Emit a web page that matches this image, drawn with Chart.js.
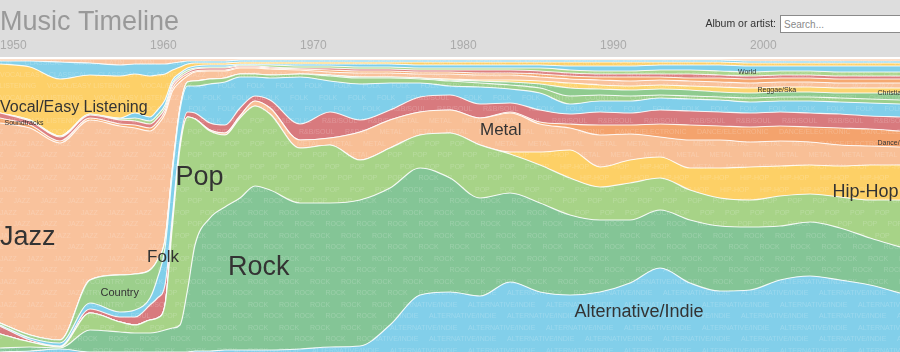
<!DOCTYPE html>
<html>
<head>
<meta charset="utf-8">
<title>Music Timeline</title>
<script src="https://cdn.jsdelivr.net/npm/chart.js@4.4.1/dist/chart.umd.min.js"></script>
<style>
  html, body { margin: 0; padding: 0; background: #fff; }
  #wrap { position: relative; width: 900px; height: 352px; overflow: hidden; }
  #search {
    position: absolute; left: 780px; top: 15px; width: 130px; height: 18px;
    box-sizing: border-box; border: 1px solid #8a8a8a; padding: 0 3px;
    font: 10px "Liberation Sans", Arial, sans-serif; color: #333; background: #fff; outline: none;
  }
  #search::placeholder { color: #8a8a8a; }
</style>
</head>
<body>
<div id="wrap">
  <canvas id="timeline"></canvas>
  <input id="search" type="text" placeholder="Search...">
</div>
<script>
// sample years (extra points around the 1960-63 switch from jazz to pop/rock)
const years = [1950, 1952, 1954, 1956, 1958, 1959, 1960, 1960.5, 1961, 1961.5, 1962, 1962.5, 1963,
  1964, 1965, 1966, 1967, 1968, 1970, 1972, 1974, 1976, 1978, 1980, 1982, 1984, 1986, 1988,
  1990, 1992, 1994, 1996, 1998, 2000, 2002, 2004, 2006, 2008, 2010];
const tickYears = [1950, 1960, 1970, 1980, 1990, 2000];

// relative popularity per genre, bottom of the stack first
const alternative = [0,1,3,0,0,0,0,0,0,0,0,0,1,1,2,2,2,2,3,5,6,27,57,60,56,70,60,57,60,69,84,69,61,62,72,76,72,67,59];
const rock = [4,4,1,22,20,19,19,20,22,24,27,62,106,133,143,152,164,160,146,144,146,137,127,114,98,89,89,80,72,63,58,63,65,63,54,54,52,47,46];
const pop = [14,5,1,17,10,8,13,14,25,103,177,173,126,87,72,80,80,76,55,58,40,40,33,45,53,39,38,37,33,37,32,30,28,27,30,28,31,38,47];
const hipHop = [0,0,0,0,0,0,0,0,0,0,0,0,0,0,0,0,0,0,0,0,0,0,0,0,0,2,13,28,20,23,21,22,30,33,30,29,31,35,35];
const metal = [0,0,0,0,0,0,0,0,0,0,0,0,0,1,2,2,5,6,8,7,28,28,23,23,27,39,28,22,32,26,20,28,28,25,25,23,21,19,18];
const dance = [0,0,0,0,0,0,0,0,0,0,0,0,0,0,0,0,0,0,0,0,0,0,0,0,0,1,2,4,10,9,13,15,14,15,15,15,17,17,16];
const rnb = [8,2,1,4,5,8,15,20,20,10,6,5,6,7,8,8,5,8,16,26,12,10,15,15,14,9,12,10,13,12,14,14,14,14,14,14,14,13,14];
const folk = [1,2,3,6,5,7,7,20,37,43,32,26,27,39,43,31,19,22,47,31,36,27,14,9,17,14,17,10,11,12,12,12,12,11,11,12,12,13,13];
const country = [2,3,3,23,37,36,28,18,8,4,2,4,5,5,4,3,3,3,3,5,6,5,4,5,4,4,5,8,6,5,3,3,3,4,4,4,4,4,4];
const christian = [0,0,0,0,0,0,0,0,0,0,0,0,0,0,0,0,0,0,0,1,1,1,1,1,2,3,4,8,6,6,6,6,5,5,5,5,5,6,7];
const reggae = [0,0,0,0,0,0,0,0,0,0,0,0,0,0,0,0,0,0,0,0,0,0,0,1,1,2,3,5,4,4,4,4,5,5,5,5,5,5,5];
const jazz = [200,207,197,160,149,146,139,135,126,77,26,6,9,8,7,6,6,6,4,3,4,4,4,5,5,5,4,4,5,5,5,5,5,5,5,5,5,5,5];
const soundtracks = [5,3,2,2,2,3,3,3,3,3,3,2,1,1,1,1,1,1,1,2,2,2,2,2,2,2,3,3,3,4,3,3,4,4,4,4,4,4,4];
const blues = [5,4,4,3,4,4,4,4,3,3,2,2,2,2,2,1,1,1,1,2,2,2,2,2,3,3,3,3,3,3,3,4,3,3,3,3,3,3,3];
const childrens = [0,1,1,1,1,3,3,3,3,2,2,2,1,1,1,1,1,2,2,2,2,2,2,2,2,2,3,3,3,3,4,4,4,4,4,4,4,4,4];
const world = [0,0,0,0,1,5,4,5,5,3,2,2,2,2,2,1,1,1,2,2,3,3,3,3,3,3,3,4,5,5,5,5,6,6,5,5,6,6,6];
const vocal = [49,53,57,39,42,39,41,35,26,10,6,4,3,2,2,2,2,2,2,2,2,2,3,3,3,3,3,4,4,4,3,3,3,3,3,3,3,3,3];
const classical = [3,6,17,12,11,10,12,11,10,7,5,3,2,2,2,2,2,2,2,2,2,2,2,2,2,2,2,2,2,2,2,2,2,2,2,2,2,2,2];
const latin = [2,2,3,4,6,5,5,5,5,4,3,2,2,2,2,1,1,1,1,1,1,1,1,1,1,1,1,1,1,1,1,1,1,2,2,2,2,2,2];

const genres = [
  ['Alternative/Indie', alternative, '#82cfea'],
  ['Rock', rock, '#84c596'],
  ['Pop', pop, '#a7d387'],
  ['Hip-Hop', hipHop, '#fdd066'],
  ['Metal', metal, '#f8bf96'],
  ['Dance/Electronic', dance, '#f4a36d'],
  ['R&B/Soul', rnb, '#d87a7e'],
  ['Folk', folk, '#80cfea'],
  ['Country', country, '#9ccf8c'],
  ['Christian/Gospel', christian, '#8fcb8f'],
  ['Reggae/Ska', reggae, '#fcd470'],
  ['Jazz', jazz, '#f9c29c'],
  ['Soundtracks', soundtracks, '#f5a870'],
  ['Blues', blues, '#dc8080'],
  ["Children's", childrens, '#aad58c'],
  ['World', world, '#7fcfea'],
  ['Vocal/Easy Listening', vocal, '#fdd068'],
  ['Classical', classical, '#84d0ea'],
  ['Latin', latin, '#f9c4a0']
];

// genre names written on the streams: text, year, share (0-100 from bottom), size
const labels = [
  ['Vocal/Easy Listening', 1950, 83.5, 16],
  ['Soundtracks', 1950.3, 78.2, 7],
  ['Jazz', 1950, 39.2, 27],
  ['Country', 1956.7, 20.1, 11],
  ['Folk', 1959.8, 32.4, 17],
  ['Pop', 1961.7, 59.7, 27],
  ['Rock', 1965.2, 28.7, 27],
  ['Metal', 1982, 75.8, 17],
  ['Alternative/Indie', 1988.3, 13.6, 18],
  ['Hip-Hop', 2005.5, 54.6, 18],
  ['World', 1999.2, 95.6, 7],
  ['Reggae/Ska', 2000.5, 89.4, 7],
  ['Christian/Gospel', 2008.5, 88.4, 7],
  ['Dance/Electronic', 2008.5, 71.3, 7]
];

const FONT = '"Liberation Sans", Arial, Helvetica, sans-serif';
const HEADER_H = 57;

// each year is shown as a share of the whole
const totals = years.map((_, i) => genres.reduce((s, g) => s + g[1][i], 0));

// stream fill: base colour with the genre name repeated faintly, like the original
function streamFill(name, color) {
  const word = name.toUpperCase();
  const probe = document.createElement('canvas').getContext('2d');
  probe.font = '7px ' + FONT;
  const step = Math.ceil(probe.measureText(word).width) + 10;
  const rowH = 11.5;
  const tile = document.createElement('canvas');
  tile.width = step;
  tile.height = rowH * 2;
  const t = tile.getContext('2d');
  t.fillStyle = color;
  t.fillRect(0, 0, tile.width, tile.height);
  t.font = '7px ' + FONT;
  t.textBaseline = 'middle';
  t.fillStyle = 'rgba(255,255,255,0.2)';
  t.fillText(word, 0, rowH * 0.5);
  t.fillText(word, step / 2, rowH * 1.5);
  t.fillText(word, step / 2 - step, rowH * 1.5);
  return t.createPattern(tile, 'repeat');
}

const datasets = genres.map(([name, values, color], k) => ({
  label: name,
  data: years.map((yr, i) => ({ x: yr, y: values[i] / totals[i] * 100 })),
  backgroundColor: streamFill(name, color),
  borderColor: 'rgba(255,255,255,0.85)',
  borderWidth: 1.2,
  fill: k === 0 ? 'origin' : '-1',
  pointRadius: 0,
  cubicInterpolationMode: 'monotone'
}));

const headerPlugin = {
  id: 'header',
  beforeDraw(chart) {
    const ctx = chart.ctx;
    const xs = chart.scales.x;
    ctx.save();
    ctx.fillStyle = '#dddddd';
    ctx.fillRect(0, 0, chart.width, HEADER_H);
    ctx.fillStyle = '#ffffff';
    ctx.fillRect(0, HEADER_H, chart.width, 2);

    ctx.fillStyle = '#999999';
    ctx.font = '27px ' + FONT;
    ctx.textBaseline = 'alphabetic';
    ctx.textAlign = 'left';
    ctx.fillText('Music Timeline', 0, 30);

    ctx.fillStyle = '#aaaaaa';
    ctx.font = '12px ' + FONT;
    ctx.textBaseline = 'middle';
    tickYears.forEach(yr => ctx.fillText(String(yr), xs.getPixelForValue(yr), 46));

    ctx.fillStyle = '#333333';
    ctx.font = '10.5px ' + FONT;
    ctx.textAlign = 'right';
    ctx.fillText('Album or artist:', 776, 24);
    ctx.restore();
  }
};

const labelPlugin = {
  id: 'streamLabels',
  afterDatasetsDraw(chart) {
    const ctx = chart.ctx;
    const xs = chart.scales.x, ys = chart.scales.y;
    ctx.save();
    ctx.fillStyle = '#333333';
    ctx.textAlign = 'left';
    ctx.textBaseline = 'middle';
    labels.forEach(([text, yr, share, size]) => {
      ctx.font = size + 'px ' + FONT;
      ctx.fillText(text, xs.getPixelForValue(yr), ys.getPixelForValue(share));
    });
    ctx.restore();
  }
};

new Chart(document.getElementById('timeline'), {
  type: 'line',
  data: { datasets },
  options: {
    responsive: true,
    maintainAspectRatio: false,
    animation: false,
    layout: { padding: { top: HEADER_H + 2, left: 0, right: 0, bottom: 0 } },
    plugins: { legend: { display: false }, tooltip: { enabled: false } },
    scales: {
      x: { type: 'linear', min: 1950, max: 2010, display: false },
      y: { stacked: true, min: 0, max: 100, display: false }
    }
  },
  plugins: [headerPlugin, labelPlugin]
});
</script>
</body>
</html>
